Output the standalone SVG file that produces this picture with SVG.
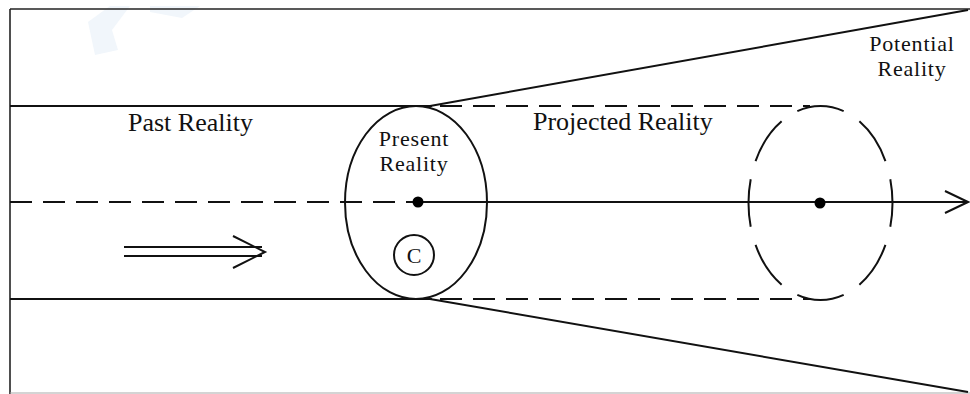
<svg xmlns="http://www.w3.org/2000/svg" width="970" height="394" viewBox="0 0 970 394">
<style>
.ln{fill:none;stroke:#111;stroke-width:2}
.fr{fill:none;stroke:#222;stroke-width:1.6}
.dsh{fill:none;stroke:#111;stroke-width:2;stroke-dasharray:22 11}
.lbl{font-family:"Liberation Serif","Times New Roman",serif;font-size:26px;fill:#111}
.lbl2{font-family:"Liberation Serif","Times New Roman",serif;font-size:22px;fill:#111;letter-spacing:0.8px}
.dot{fill:#000}
</style>
<rect width="970" height="394" fill="#fff"/>
<path d="M88 22 L110 6 L130 6 L112 30 L118 50 L95 55 Z M150 6 L200 6 L182 18 L150 12 Z" fill="#f1f6fb"/>
<g id="frame">
<line class="fr" x1="10" y1="9" x2="970" y2="9"/>
<line class="fr" x1="10" y1="9" x2="10" y2="394"/>
<line x1="10" y1="393" x2="970" y2="393" stroke="#aaa" stroke-width="1.2"/>
</g>
<g id="connectors">
<line class="ln" x1="10" y1="106" x2="432" y2="106"/>
<line class="ln" x1="10" y1="299" x2="432" y2="299"/>
<line class="dsh" x1="440" y1="106" x2="810" y2="106"/>
<line class="dsh" x1="440" y1="299" x2="810" y2="299"/>
<line class="ln" x1="430" y1="106" x2="968" y2="10"/>
<line class="ln" x1="430" y1="299" x2="968" y2="392"/>
<line class="dsh" x1="10" y1="202" x2="412" y2="202"/>
<line class="ln" x1="412" y1="202" x2="968" y2="202"/>
<polyline class="ln" points="945,191 968,202 945,213"/>
<line class="ln" x1="124" y1="247" x2="262" y2="247"/>
<line class="ln" x1="124" y1="256" x2="262" y2="256"/>
<polyline class="ln" points="233,236 265,252 233,268"/>
</g>
<g id="past-reality">
<text class="lbl" x="128" y="131">Past Reality</text>
</g>
<g id="present-reality">
<ellipse class="ln" cx="416" cy="202.5" rx="71" ry="96.5"/>
<circle class="dot" cx="418" cy="202" r="5.5"/>
<text class="lbl2" x="414" y="146" text-anchor="middle">Present</text>
<text class="lbl2" x="414" y="171" text-anchor="middle">Reality</text>
</g>
<g id="c-circle">
<circle class="ln" cx="414" cy="255" r="20"/>
<text x="414" y="263" text-anchor="middle" font-family="Liberation Serif, serif" font-size="22" fill="#111">C</text>
</g>
<g id="projected-reality">
<ellipse cx="820.5" cy="203" rx="72" ry="97" fill="none" stroke="#111" stroke-width="2" pathLength="8" stroke-dasharray="0.72 0.28" stroke-dashoffset="0.36"/>
<circle class="dot" cx="820" cy="203" r="5.5"/>
<text class="lbl" x="533" y="130">Projected Reality</text>
</g>
<g id="potential-reality">
<text class="lbl2" x="912" y="51" text-anchor="middle">Potential</text>
<text class="lbl2" x="912" y="76" text-anchor="middle">Reality</text>
</g>
</svg>
